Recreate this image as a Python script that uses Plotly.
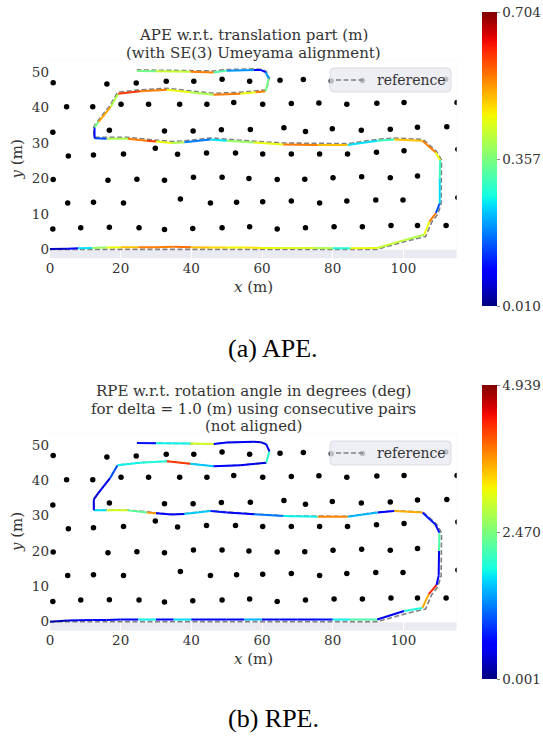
import numpy as np
import plotly.graph_objects as go

# ---------------- data ----------------
# landmarks (m)
lm_x = [0.9, 16.1, 24.4, 32.9, 40.7, 48.7, 56.5, 65.1, 71.7, 79.6, 88.4, 112.0,
        4.7, 12.1, 20.1, 27.9, 36.7, 44.4, 52.0, 60.2, 68.3, 76.1, 84.0, 92.5, 100.2, 115.2,
        0.8, 16.8, 32.4, 40.5, 48.5, 56.7, 66.2, 72.3, 79.9, 88.1, 96.3, 104.0, 112.3,
        5.2, 12.3, 20.8, 29.8, 36.1, 44.3, 52.5, 60.2, 68.3, 76.3, 84.2, 92.4, 100.2, 115.4,
        0.9, 16.4, 24.6, 32.4, 40.6, 48.7, 56.3, 64.3, 72.1, 80.1, 88.2, 96.3, 104.0,
        5.0, 12.3, 20.8, 36.9, 45.4, 52.8, 60.2, 68.3, 76.3, 84.0, 92.2, 99.9, 115.4,
        0.8, 8.7, 16.8, 25.2, 32.4, 40.4, 48.7, 56.5, 64.3, 72.3, 80.4, 88.4, 96.5, 104.0, 112.1]
lm_y = [47.0, 46.6, 46.9, 47.4, 47.4, 48.0, 47.4, 47.7, 47.9, 47.5, 47.6, 48.0,
        40.2, 40.2, 40.9, 40.9, 40.9, 40.9, 41.4, 40.9, 41.1, 41.3, 40.9, 41.2, 41.4, 41.4,
        33.0, 33.6, 33.4, 33.4, 33.7, 33.8, 34.3, 33.2, 34.0, 33.6, 33.9, 34.4, 34.6,
        26.3, 26.6, 26.9, 28.5, 26.8, 27.2, 27.2, 26.9, 26.9, 26.9, 26.9, 27.4, 27.8, 28.2,
        19.7, 19.5, 19.8, 19.5, 20.3, 20.3, 20.0, 19.7, 19.8, 20.2, 20.5, 20.2, 20.7,
        13.1, 13.3, 13.1, 14.2, 13.1, 13.3, 13.4, 13.6, 13.1, 13.6, 13.9, 13.9, 14.6,
        5.7, 6.1, 6.2, 6.1, 5.6, 5.9, 6.1, 6.4, 5.7, 6.1, 6.4, 6.4, 6.7, 6.7, 6.7]

# reference trajectory (m)
ref_x = [0, 5, 8, 12, 16, 20, 25, 30, 35, 40, 45, 50, 55, 60, 65, 70, 75, 80, 85, 92.6,
         101.2, 106.3, 108.0, 109.8, 110.7, 110.7, 110.8, 109.4, 105.6, 97.4, 92.7, 84.2,
         75.7, 66, 57.7, 50, 45.4, 38, 34.5, 30, 27.4, 22, 16, 12.4, 12.4, 13.6, 17, 19.1,
         25.5, 33.1, 39.7, 46.3, 53.9, 58.2, 61.2, 62.1, 61.2, 59.6, 57.7, 50, 46.3, 39.7, 30, 24.6]
ref_y = [0, 0, 0, 0, 0, 0, 0, 0, 0, 0, 0, 0, 0, 0, 0, 0, 0, 0, 0, 0,
         2.4, 3.6, 7.6, 10.0, 13.0, 20.0, 25.2, 27.6, 31.0, 31.4, 31.0, 29.8,
         29.8, 30.0, 30.5, 31.0, 31.4, 30.6, 30.4, 30.8, 31.0, 31.6, 31.6, 31.6, 34.6, 36.3, 40.6, 44.3,
         45.0, 45.4, 44.7, 44.0, 44.3, 44.7, 45.0, 48.2, 50.2, 50.8, 50.9, 50.7, 50.3, 50.4, 50.5, 50.6]

# APE: aligned estimate (m) and error (m)
ape_x = [0, 5, 8, 12, 16, 20, 25, 30, 35, 40, 45, 50, 55, 60, 65, 70, 75, 80, 85, 92.6,
         101.0, 105.9, 107.4, 109.2, 110.3, 110.3, 110.4, 109.1, 105.4, 97.4, 92.7, 84.2,
         75.7, 66, 57.7, 50, 45.4, 38, 34.5, 30, 27.4, 22, 16, 12.6, 12.6, 13.8, 17.2, 19.3,
         25.5, 33.1, 39.7, 46.3, 53.9, 58.2, 61.0, 61.9, 61.0, 59.6, 57.7, 50, 46.3, 39.7, 30, 24.6]
ape_y = [0.1, 0.2, 0.3, 0.4, 0.5, 0.6, 0.6, 0.6, 0.7, 0.6, 0.5, 0.5, 0.5, 0.4, 0.4, 0.4, 0.4, 0.3, 0.3, 0.4,
         2.8, 4.1, 7.8, 10.2, 13.0, 20.0, 25.2, 27.4, 30.6, 31.0, 30.6, 29.4,
         29.4, 29.6, 30.1, 30.6, 31.0, 30.2, 30.0, 30.4, 30.6, 31.2, 31.2, 31.3, 34.4, 36.0, 40.2, 43.9,
         44.6, 45.0, 44.3, 43.6, 43.9, 44.3, 44.6, 48.2, 50.0, 50.6, 50.6, 50.4, 49.9, 50.1, 50.2, 50.3]
ape_err = [0.05, 0.10, 0.25, 0.38, 0.45, 0.50, 0.55, 0.55, 0.56, 0.50, 0.48, 0.46, 0.47, 0.45, 0.44,
           0.43, 0.40, 0.28, 0.45, 0.42, 0.40, 0.45, 0.55, 0.15, 0.25, 0.30, 0.45, 0.55, 0.50, 0.30,
           0.25, 0.50, 0.55, 0.45, 0.38, 0.25, 0.18, 0.40, 0.45, 0.60, 0.55, 0.40, 0.15, 0.10, 0.35,
           0.52, 0.40, 0.60, 0.55, 0.45, 0.40, 0.55, 0.45, 0.55, 0.35, 0.20, 0.10, 0.10, 0.20, 0.32,
           0.55, 0.42, 0.35, 0.40]
ape_min, ape_max = 0.010, 0.704

# RPE: unaligned estimate (m) and error (deg)
rpe_x = [0, 5, 8, 12, 16, 20, 25, 30, 35, 40, 45, 50, 55, 60, 65, 70, 75, 80, 85, 92.6,
         100.2, 105.4, 107.2, 109.4, 110.0, 110.1, 110.2, 109.0, 105.4, 97.4, 92.7, 84.2,
         75.7, 66, 57.7, 50, 45.4, 38, 34.5, 30, 27.4, 22, 16, 12.4, 12.4, 13.6, 17, 19.1,
         25.5, 33.1, 39.7, 46.3, 53.9, 58.2, 61.2, 62.1, 61.2, 59.6, 57.7, 50, 46.3, 39.7, 30, 24.6]
rpe_y = [0.0, 0.3, 0.4, 0.5, 0.5, 0.6, 0.6, 0.6, 0.6, 0.6, 0.6, 0.6, 0.6, 0.6, 0.6, 0.6, 0.6, 0.6, 0.6, 0.6,
         3.0, 3.9, 7.8, 10.4, 13.0, 20.0, 25.2, 27.6, 30.9, 31.3, 30.9, 29.7,
         29.7, 29.9, 30.4, 30.9, 31.3, 30.5, 30.3, 30.7, 30.9, 31.5, 31.5, 31.5, 34.6, 36.3, 40.6, 44.3,
         45.0, 45.4, 44.7, 44.0, 44.3, 44.7, 45.0, 48.2, 50.2, 50.8, 50.9, 50.7, 50.3, 50.4, 50.5, 50.6]
rpe_err = [0.2, 0.4, 0.5, 0.6, 0.5, 0.6, 1.8, 0.6, 1.7, 0.5, 0.6, 0.5, 1.5, 0.5, 0.6, 0.5, 0.7,
           1.8, 2.2, 0.5, 1.9, 3.6, 4.3, 0.6, 0.5, 2.2, 0.6, 0.7, 3.6, 0.6, 1.5, 3.8, 1.8, 1.2,
           0.6, 0.7, 1.6, 0.5, 0.6, 3.7, 2.3, 3.0, 1.7, 0.4, 0.4, 0.5, 1.0, 1.8, 1.9, 4.2, 1.6,
           0.6, 0.5, 0.4, 2.0, 0.5, 0.4, 0.4, 0.5, 0.5, 3.0, 1.8, 0.7, 0.3]
rpe_min, rpe_max = 0.001, 4.939

x_ticks = [0, 20, 40, 60, 80, 100]
y_ticks = [0, 10, 20, 30, 40, 50]

title_lines = [["APE w.r.t. translation part (m)", "(with SE(3) Umeyama alignment)"],
               ["RPE w.r.t. rotation angle in degrees (deg)",
                "for delta = 1.0 (m) using consecutive pairs", "(not aligned)"]]
captions = ["(a) APE.", "(b) RPE."]
legend_label = "reference"


# ---------------- helpers ----------------
def jet(t):
    t = float(np.clip(t, 0, 1))
    r = np.interp(t, [0, 0.35, 0.66, 0.89, 1], [0, 0, 1, 1, 0.5])
    g = np.interp(t, [0, 0.125, 0.375, 0.64, 0.91, 1], [0, 0, 1, 1, 0, 0])
    b = np.interp(t, [0, 0.11, 0.34, 0.65, 1], [0.5, 1, 1, 0, 0])
    return "rgb(%d,%d,%d)" % (round(r * 255), round(g * 255), round(b * 255))


jet_scale = [[s, jet(s)] for s in np.linspace(0, 1, 41)]

FONT = "DejaVu Serif"
TXT = "#333333"
W, H = 543, 738
XD = [50 / W, 456.7 / W]
XR = [0, 115.1]
YR = [-2.5, 53.2]
panels = [
    dict(ex=ape_x, ey=ape_y, err=ape_err, vmin=ape_min, vmax=ape_max, top=60.7, bot=258.2,
         cb_top=12, cb_bot=306, leg_top=68, title_y=[35, 53], cap_y=348, xt_y=287),
    dict(ex=rpe_x, ey=rpe_y, err=rpe_err, vmin=rpe_min, vmax=rpe_max, top=433.7, bot=630.5,
         cb_top=385, cb_bot=679, leg_top=441, title_y=[391, 409, 426], cap_y=718, xt_y=659),
]


def px(xp):
    return xp / W


def py(yp):
    return 1 - yp / H


def rounded_rect(x0, y0, x1, y1, r):
    # pixel box -> paper path with rounded corners
    return ("M {a},{b} L {c},{b} Q {x1},{b} {x1},{d} L {x1},{e} Q {x1},{f} {c},{f} "
            "L {a},{f} Q {x0},{f} {x0},{e} L {x0},{d} Q {x0},{b} {a},{b} Z").format(
        a=px(x0 + r), b=py(y0), c=px(x1 - r), d=py(y0 + r), e=py(y1 - r), f=py(y1),
        x0=px(x0), x1=px(x1))


fig = go.Figure()
annotations = []
shapes = []
for k, p in enumerate(panels):
    xa = "x" if k == 0 else "x2"
    ya = "y" if k == 0 else "y2"
    # landmarks
    fig.add_trace(go.Scatter(x=lm_x, y=lm_y, mode="markers", xaxis=xa, yaxis=ya,
                             marker=dict(color="black", size=5.5), showlegend=False,
                             hoverinfo="skip", cliponaxis=True))
    # reference
    fig.add_trace(go.Scatter(x=ref_x, y=ref_y, mode="lines", xaxis=xa, yaxis=ya,
                             line=dict(color="#808080", width=1.6, dash="5px,2.5px"),
                             name=legend_label, showlegend=False, hoverinfo="skip"))
    # colour-mapped estimate, one segment per reading
    ex, ey, err = p["ex"], p["ey"], p["err"]
    for i in range(len(ex) - 1):
        t = (err[i] - p["vmin"]) / (p["vmax"] - p["vmin"])
        fig.add_trace(go.Scatter(x=[ex[i], ex[i + 1]], y=[ey[i], ey[i + 1]], mode="lines",
                                 xaxis=xa, yaxis=ya, line=dict(color=jet(t), width=2),
                                 showlegend=False, hoverinfo="skip"))
    # colorbar
    mid = (p["vmin"] + p["vmax"]) / 2
    fig.add_trace(go.Scatter(x=[ex[0]], y=[ey[0]], mode="markers", xaxis=xa, yaxis=ya,
                             showlegend=False, hoverinfo="skip",
                             marker=dict(size=0.1, color=[p["vmin"]], cmin=p["vmin"], cmax=p["vmax"],
                                         colorscale=jet_scale, showscale=True,
                                         colorbar=dict(x=482 / W, xanchor="left",
                                                       y=py(p["cb_top"]), yanchor="top",
                                                       len=(p["cb_bot"] - p["cb_top"]) / H, lenmode="fraction",
                                                       thickness=15, thicknessmode="pixels",
                                                       outlinewidth=0, xpad=0, ypad=0,
                                                       tickvals=[p["vmin"], mid, p["vmax"]],
                                                       ticktext=["%.3f" % p["vmin"], "%.3f" % mid,
                                                                 "%.3f" % p["vmax"]],
                                                       ticks="outside", ticklen=3, tickcolor="#888",
                                                       tickfont=dict(family=FONT, size=13.5, color=TXT)))))
    # white area over the seaborn-grey background
    shapes.append(dict(type="rect", xref=xa, yref=ya, x0=-5, x1=125, y0=-0.15, y1=60,
                       fillcolor="white", line=dict(width=0), layer="between"))
    # legend box (drawn by hand, rounded like the original)
    lt = p["leg_top"]
    shapes.append(dict(type="path", xref="paper", yref="paper",
                       path=rounded_rect(330, lt, 451, lt + 24, 4),
                       fillcolor="rgba(234,234,242,0.8)", line=dict(color="rgba(215,215,225,0.9)", width=1),
                       layer="above"))
    shapes.append(dict(type="line", xref="paper", yref="paper", x0=px(336), x1=px(363),
                       y0=py(lt + 12), y1=py(lt + 12),
                       line=dict(color="#808080", width=1.6, dash="5px,2.5px"), layer="above"))
    annotations.append(dict(text=legend_label, xref="paper", yref="paper", x=px(375), y=py(lt + 12),
                            xanchor="left", yanchor="middle", showarrow=False,
                            font=dict(family=FONT, size=14, color=TXT)))
    # title, one annotation per line
    for line_text, ly in zip(title_lines[k], p["title_y"]):
        annotations.append(dict(text=line_text, xref="paper", yref="paper",
                                x=(XD[0] + XD[1]) / 2, y=py(ly),
                                xanchor="center", yanchor="middle", showarrow=False,
                                font=dict(family=FONT, size=15, color=TXT)))
    # axis titles
    annotations.append(dict(text="<i>x</i> (m)", xref="paper", yref="paper",
                            x=(XD[0] + XD[1]) / 2, y=py(p["xt_y"]), xanchor="center", yanchor="middle",
                            showarrow=False, font=dict(family=FONT, size=15, color=TXT)))
    annotations.append(dict(text="<i>y</i> (m)", xref="paper", yref="paper", textangle=-90,
                            x=px(17), y=py((p["top"] + p["bot"]) / 2), xanchor="center", yanchor="middle",
                            showarrow=False, font=dict(family=FONT, size=15, color=TXT)))
    # caption
    annotations.append(dict(text=captions[k], xref="paper", yref="paper",
                            x=px(273), y=py(p["cap_y"]), xanchor="center", yanchor="middle",
                            showarrow=False, font=dict(family="Liberation Serif", size=26, color="black")))

axis_common = dict(showline=False, zeroline=False, ticks="", 
                   tickfont=dict(family=FONT, size=13.5, color=TXT), automargin=False)
for k, p in enumerate(panels):
    dom_y = [py(p["bot"]), py(p["top"])]
    xkey = "xaxis" if k == 0 else "xaxis2"
    ykey = "yaxis" if k == 0 else "yaxis2"
    fig.layout[xkey] = dict(domain=XD, range=XR, tickvals=x_ticks, showgrid=True, gridcolor="white",
                            gridwidth=1, anchor="y" if k == 0 else "y2", **axis_common)
    fig.layout[ykey] = dict(domain=dom_y, range=YR, tickvals=y_ticks, showgrid=False,
                            anchor="x" if k == 0 else "x2", **axis_common)

fig.update_layout(width=W, height=H, margin=dict(l=0, r=0, t=0, b=0, autoexpand=False),
                  paper_bgcolor="white", plot_bgcolor="#EAEAF2", showlegend=False,
                  annotations=annotations, shapes=shapes)

fig.write_html("out.html", post_script="document.body.style.margin='0';",
               config={"displayModeBar": False})
